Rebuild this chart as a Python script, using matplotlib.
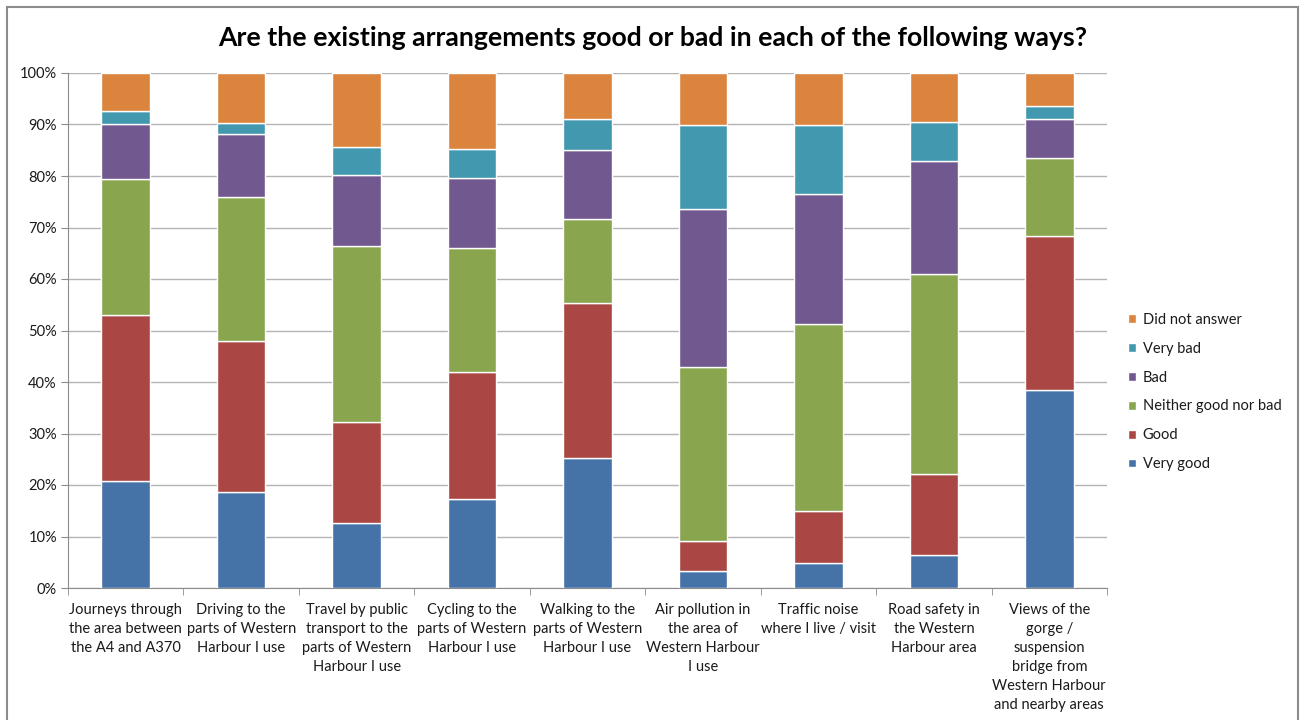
import matplotlib
matplotlib.use("Agg")
import matplotlib.pyplot as plt
from matplotlib.patches import Rectangle
from matplotlib.ticker import FuncFormatter, MultipleLocator
import numpy as np

categories = [
    "Journeys through\nthe area between\nthe A4 and A370",
    "Driving to the\nparts of Western\nHarbour I use",
    "Travel by public\ntransport to the\nparts of Western\nHarbour I use",
    "Cycling to the\nparts of Western\nHarbour I use",
    "Walking to the\nparts of Western\nHarbour I use",
    "Air pollution in\nthe area of\nWestern Harbour\nI use",
    "Traffic noise\nwhere I live / visit",
    "Road safety in\nthe Western\nHarbour area",
    "Views of the\ngorge /\nsuspension\nbridge from\nWestern Harbour\nand nearby areas",
]

series_names = ["Very good", "Good", "Neither good nor bad", "Bad", "Very bad", "Did not answer"]

very_good = [20.7, 18.6, 12.7, 17.3, 25.3, 3.3, 4.8, 6.5, 38.4]
good      = [32.3, 29.4, 19.6, 24.6, 30.0, 5.9, 10.2, 15.6, 30.0]
neither   = [26.5, 28.0, 34.1, 24.1, 16.3, 33.8, 36.2, 38.8, 15.0]
bad       = [10.6, 12.1, 13.8, 13.6, 13.4, 30.6, 25.4, 22.0, 7.7]
very_bad  = [2.5, 2.1, 5.5, 5.7, 6.1, 16.3, 13.3, 7.5, 2.5]
no_answer = [7.4, 9.8, 14.3, 14.7, 8.9, 10.1, 10.1, 9.6, 6.4]

series_values = [very_good, good, neither, bad, very_bad, no_answer]
colors = ["#4572A7", "#AA4643", "#89A54E", "#71588F", "#4198AF", "#DB843D"]

plt.rcParams['font.family'] = ['Lato', 'DejaVu Sans']

fig = plt.figure(figsize=(13.06, 7.2), dpi=100)
ax = fig.add_axes([68/1306, 132/720, (1107-68)/1306, (588-73)/720])

x = np.arange(len(categories))
bottom = np.zeros(len(categories))
handles = []
for name, vals, c in zip(series_names, series_values, colors):
    v = np.array(vals)
    b = ax.bar(x, v, 0.42, bottom=bottom, color=c, edgecolor="white", linewidth=1.0, label=name, zorder=3)
    handles.append(b)
    bottom += v

ax.set_xlim(-0.5, len(categories) - 0.5)
ax.set_ylim(0, 100)
ax.yaxis.set_major_locator(MultipleLocator(10))
ax.yaxis.set_major_formatter(FuncFormatter(lambda v, p: f"{int(round(v))}%"))
ax.grid(axis="y", color="#B3B3B3", linewidth=1.0, zorder=0)
ax.set_axisbelow(True)

for s in ["top", "right"]:
    ax.spines[s].set_visible(False)
ax.spines["left"].set_color("#8C8C8C")
ax.spines["bottom"].set_color("#8C8C8C")

ax.set_xticks(x)
ax.set_xticklabels(categories, fontsize=10.5, color="#1A1A1A", linespacing=1.45, ha="center", va="top")
ax.tick_params(axis="x", length=0, pad=11)
ax.set_xticks(np.arange(-0.5, len(categories), 1.0), minor=True)
ax.tick_params(axis="x", which="minor", length=5, color="#8C8C8C", direction="out")
ax.tick_params(axis="y", length=5, color="#8C8C8C", labelsize=10.5, labelcolor="#1A1A1A", pad=3)

fig.text(653/1306, 1 - 38/720, "Are the existing arrangements good or bad in each of the following ways?",
         ha="center", va="center", fontsize=19.2, fontweight="bold", color="#000000")

leg = fig.legend(handles[::-1], series_names[::-1], loc="center left",
                 bbox_to_anchor=(1128/1306, 1 - 392/720), frameon=False, fontsize=10.5,
                 handlelength=0.55, handleheight=0.55, handletextpad=0.45,
                 labelspacing=1.02, borderpad=0, borderaxespad=0)
for t in leg.get_texts():
    t.set_color("#1A1A1A")

border = Rectangle((7/1306, -0.05), (1298-7)/1306, 1.05 - 7/720, transform=fig.transFigure,
                   fill=False, edgecolor="#8C8C8C", linewidth=1.5)
fig.patches.append(border)

fig.savefig("out.png", dpi=100)
